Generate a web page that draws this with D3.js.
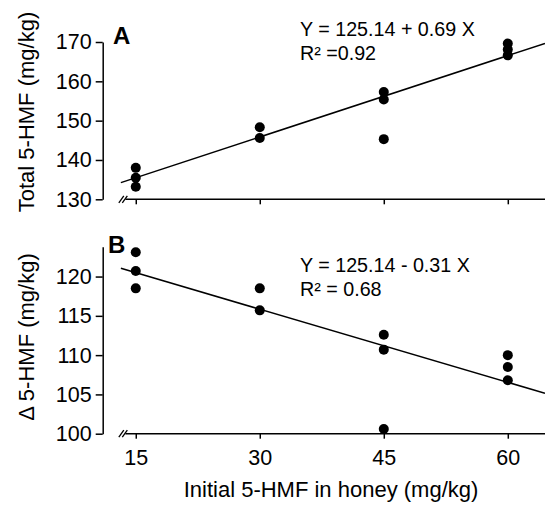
<!DOCTYPE html>
<html>
<head>
<meta charset="utf-8">
<script src="https://cdn.jsdelivr.net/npm/d3@7"></script>
<style>
  body { margin: 0; background: #fff; }
  svg text { font-family: Arial, "Liberation Sans", sans-serif; fill: #000; }
  .axis path, .axis line { stroke: #000; stroke-width: 1.5px; }
  .axis text { font-size: 21.5px; }
</style>
</head>
<body>
<div id="chart"></div>
<script>
// data
const X_TICKS = [15, 30, 45, 60];

const A_X = [15, 15, 15, 30, 30, 45, 45, 45, 60, 60, 60];
const A_Y = [138.0, 135.5, 133.2, 148.3, 145.6, 157.3, 155.4, 145.3, 169.6, 168.1, 166.6];
const A_TICKS = [130, 140, 150, 160, 170];
const A_FIT = [125.14, 0.69];
const A_LABELS = ["Y = 125.14 + 0.69 X", "R\u00B2 =0.92"];

const B_X = [15, 15, 15, 30, 30, 45, 45, 45, 60, 60, 60];
const B_Y = [123.1, 120.7, 118.5, 118.5, 115.7, 112.6, 110.7, 100.6, 110.0, 108.5, 106.8];
const B_TICKS = [100, 105, 110, 115, 120];
const B_FIT = [125.14, -0.31];
const B_LABELS = ["Y = 125.14 - 0.31 X", "R\u00B2 = 0.68"];

const WIDTH = 545;
const HEIGHT = 505;
const AXIS_X = 102.7;

const SVG = d3.select("#chart").append("svg")
  .attr("width", WIDTH)
  .attr("height", HEIGHT);

const X_SCALE = d3.scaleLinear().domain([11, 64.5]).range([AXIS_X, WIDTH]);

function drawPanel(opts) {
  const y = d3.scaleLinear().domain(opts.domain).range(opts.range);
  const g = SVG.append("g");
  const yBottom = opts.range[0];

  // y axis
  g.append("g")
    .attr("class", "axis")
    .attr("transform", "translate(" + AXIS_X + ",0)")
    .call(d3.axisLeft(y).tickValues(opts.ticks).tickSizeInner(7).tickSizeOuter(0).tickPadding(4));

  // x axis (domain drawn by hand so it can start after the break)
  const xAxis = g.append("g")
    .attr("class", "axis")
    .attr("transform", "translate(0," + yBottom + ")")
    .call(d3.axisBottom(X_SCALE).tickValues(X_TICKS).tickSizeInner(5).tickSizeOuter(0).tickPadding(11));
  xAxis.select(".domain").remove();
  if (!opts.xLabels) xAxis.selectAll("text").remove();
  xAxis.append("line")
    .attr("x1", X_SCALE(13.75)).attr("x2", WIDTH)
    .attr("y1", 0).attr("y2", 0);

  // axis break marks
  [0, 3.5].forEach((dx) => {
    g.append("line")
      .attr("x1", X_SCALE(12.95) + dx).attr("y1", yBottom + 3.5)
      .attr("x2", X_SCALE(12.95) + dx + 5).attr("y2", yBottom - 3.5)
      .attr("stroke", "#000").attr("stroke-width", 1.3);
  });

  // regression line
  const fitX = [13.2, 64.5];
  g.append("line")
    .attr("x1", X_SCALE(fitX[0])).attr("y1", y(opts.fit[0] + opts.fit[1] * fitX[0]))
    .attr("x2", X_SCALE(fitX[1])).attr("y2", y(opts.fit[0] + opts.fit[1] * fitX[1]))
    .attr("stroke", "#000").attr("stroke-width", 1.5);

  // points
  g.selectAll("circle")
    .data(opts.xs)
    .enter()
    .append("circle")
    .attr("cx", (d) => X_SCALE(d))
    .attr("cy", (d, i) => y(opts.ys[i]))
    .attr("r", 5)
    .attr("fill", "#000");

  // panel letter
  g.append("text")
    .attr("x", opts.letterPos[0]).attr("y", opts.letterPos[1])
    .style("font-size", "24px").style("font-weight", "bold")
    .text(opts.letter);

  // equation text
  opts.labels.forEach((t, i) => {
    g.append("text")
      .attr("x", 300).attr("y", opts.eqY + i * 24)
      .style("font-size", "19.7px")
      .text(t);
  });

  // y title
  g.append("text")
    .attr("transform", "translate(34," + opts.titleY + ") rotate(-90)")
    .attr("text-anchor", "middle")
    .style("font-size", "22px")
    .text(opts.title);
}

drawPanel({
  domain: [130, 170], range: [199.3, 42], ticks: A_TICKS,
  xs: A_X, ys: A_Y, fit: A_FIT, labels: A_LABELS,
  letter: "A", letterPos: [113, 44], eqY: 36,
  title: "Total 5-HMF (mg/kg)", titleY: 112, xLabels: false
});

drawPanel({
  domain: [100, 123.8], range: [433.7, 246.7], ticks: B_TICKS,
  xs: B_X, ys: B_Y, fit: B_FIT, labels: B_LABELS,
  letter: "B", letterPos: [108, 253], eqY: 272,
  title: "\u0394 5-HMF (mg/kg)", titleY: 337, xLabels: true
});

SVG.append("text")
  .attr("x", 331).attr("y", 497)
  .attr("text-anchor", "middle")
  .style("font-size", "22px")
  .text("Initial 5-HMF in honey (mg/kg)");
</script>
</body>
</html>
